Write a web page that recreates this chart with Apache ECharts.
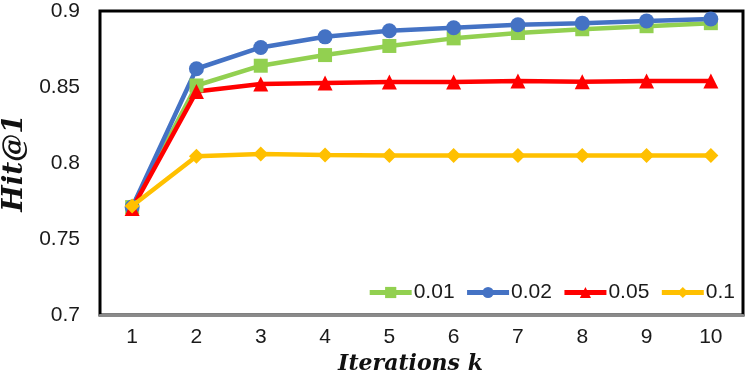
<!DOCTYPE html>
<html>
<head>
<meta charset="utf-8">
<script src="https://cdn.jsdelivr.net/npm/echarts@6/dist/echarts.min.js"></script>
<style>
  html, body { margin: 0; padding: 0; background: #fff; }
  #chart { width: 747px; height: 375px; }
</style>
</head>
<body>
<div id="chart"></div>
<script>
// iterations on the x axis
const iterations = ['1', '2', '3', '4', '5', '6', '7', '8', '9', '10']

// Hit@1 per setting
const hit001 = [0.771, 0.851, 0.864, 0.871, 0.877, 0.882, 0.8855, 0.888, 0.890, 0.892]
const hit002 = [0.771, 0.862, 0.876, 0.883, 0.887, 0.889, 0.891, 0.892, 0.8935, 0.8947]
const hit005 = [0.770, 0.847, 0.852, 0.8527, 0.8533, 0.8533, 0.854, 0.8535, 0.854, 0.854]
const hit01 = [0.7717, 0.8045, 0.806, 0.8053, 0.805, 0.805, 0.805, 0.805, 0.805, 0.805]

const seriesDefs = [
  { name: '0.01', data: hit001, color: '#92d050', symbol: 'rect', size: 14 },
  { name: '0.02', data: hit002, color: '#4472c4', symbol: 'circle', size: 15 },
  { name: '0.05', data: hit005, color: '#ff0000', symbol: 'triangle', size: 15 },
  { name: '0.1', data: hit01, color: '#ffc000', symbol: 'diamond', size: 15 }
]

const chart = echarts.init(document.getElementById('chart'))

chart.setOption({
  animation: false,
  grid: {
    left: 100,
    right: 4,
    top: 11,
    bottom: 60,
    outerBoundsMode: 'none',
    containLabel: false,
    show: true,
    borderColor: '#000',
    borderWidth: 3
  },
  legend: {
    right: 7,
    top: 277,
    itemWidth: 42,
    itemHeight: 14,
    itemGap: 10,
    lineStyle: { width: 5 },
    textStyle: { fontFamily: 'Liberation Sans', fontSize: 21, color: '#1a1a1a', padding: [0, 0, 0, -3] },
    data: seriesDefs.map(s => s.name)
  },
  xAxis: {
    type: 'category',
    data: iterations,
    boundaryGap: true,
    name: 'Iterations k',
    nameLocation: 'middle',
    nameGap: 37,
    nameTextStyle: {
      fontFamily: 'DejaVu Serif',
      fontStyle: 'italic',
      fontWeight: 'bold',
      fontSize: 22,
      color: '#111',
      padding: [0, 22, 0, 0]
    },
    axisLine: { lineStyle: { color: '#8a8a8a', width: 3 } },
    axisTick: { show: false },
    axisLabel: { fontFamily: 'Liberation Sans', fontSize: 21, color: '#1a1a1a', margin: 12 }
  },
  yAxis: {
    type: 'value',
    min: 0.7,
    max: 0.9,
    interval: 0.05,
    name: 'Hit@1',
    nameLocation: 'middle',
    nameGap: 65,
    nameTextStyle: {
      fontFamily: 'DejaVu Serif',
      fontStyle: 'italic',
      fontWeight: 'bold',
      fontSize: 28,
      color: '#111'
    },
    splitLine: { show: false },
    axisLine: { show: false },
    axisTick: { show: false },
    axisLabel: { fontFamily: 'Liberation Sans', fontSize: 21, color: '#1a1a1a', margin: 20 }
  },
  series: seriesDefs.map(s => ({
    name: s.name,
    type: 'line',
    data: s.data,
    symbol: s.symbol,
    symbolSize: s.size,
    lineStyle: { color: s.color, width: 4.5 },
    itemStyle: { color: s.color },
    z: s.name === '0.1' ? 5 : 2
  }))
})
</script>
</body>
</html>
